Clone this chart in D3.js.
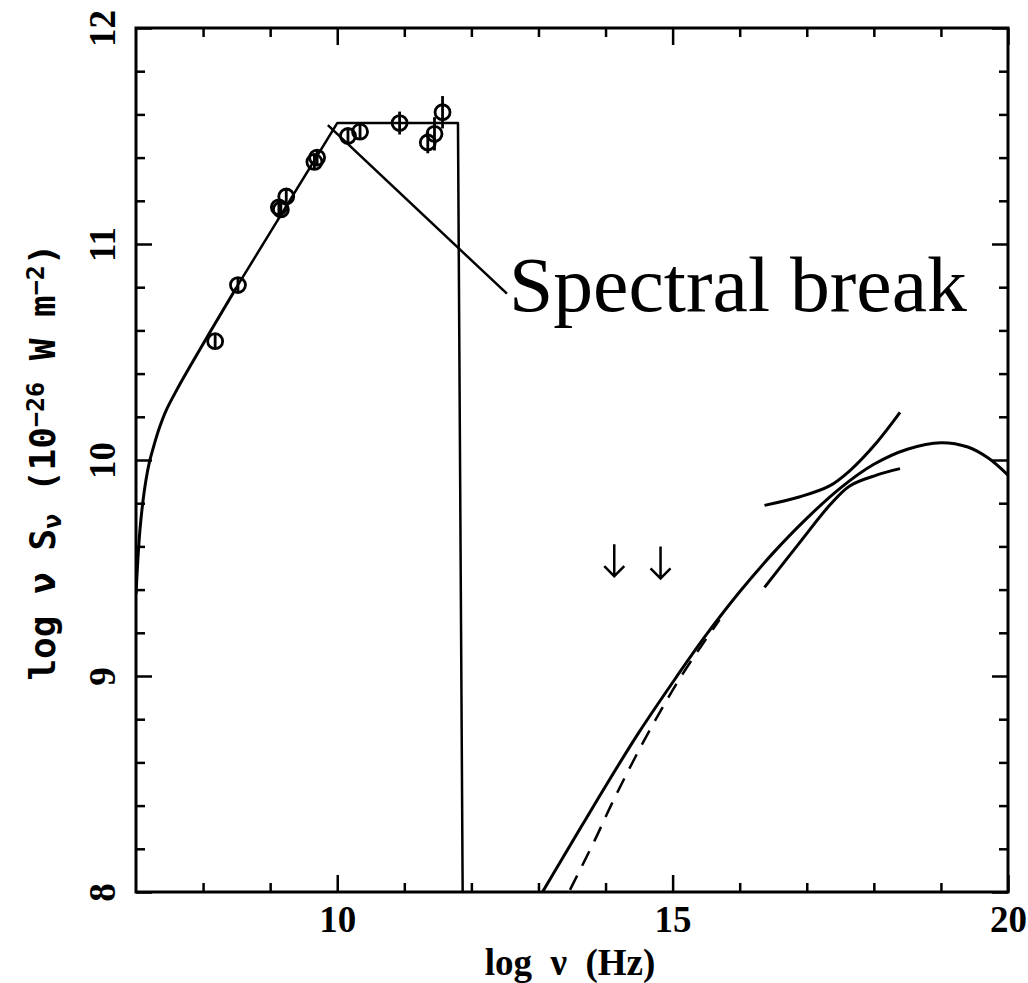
<!DOCTYPE html>
<html>
<head>
<meta charset="utf-8">
<script src="https://cdn.jsdelivr.net/npm/d3@7"></script>
<style>
  body { margin: 0; background: #fff; }
  svg { display: block; }
</style>
</head>
<body>
<script>
// --- data (log nu [Hz], log nu S_nu) ---
var obsX   = [8.18, 8.52, 9.13, 9.16, 9.24, 9.66, 9.70, 10.16, 10.34, 10.93, 11.35, 11.45, 11.57];
var obsY   = [10.55, 10.81, 11.17, 11.16, 11.22, 11.38, 11.40, 11.50, 11.52, 11.56, 11.47, 11.51, 11.61];
var obsErr = [0.02, 0.02, 0.02, 0.02, 0.02, 0.02, 0.02, 0.03, 0.03, 0.053, 0.05, 0.077, 0.075];

// synchrotron model: curved low-frequency part, then straight to the break
var syncLow = [[7.0, 9.38], [7.03, 9.55], [7.06, 9.68], [7.1, 9.80], [7.15, 9.91], [7.2, 9.99],
               [7.27, 10.07], [7.35, 10.15], [7.45, 10.23], [7.6, 10.32], [7.8, 10.43],
               [8.1, 10.59], [8.5, 10.80]];
var syncBreak = [[8.5, 10.80], [10.0, 11.56], [11.8, 11.56], [11.87, 8.0]];

// high energy component
var icSolid = [[13.06, 8.0], [13.5, 8.23], [14.0, 8.49], [14.5, 8.74], [15.0, 8.97],
               [15.5, 9.19], [16.0, 9.39], [16.5, 9.57], [17.0, 9.73], [17.5, 9.87],
               [18.0, 9.98], [18.5, 10.05], [19.0, 10.08], [19.4, 10.06], [19.7, 10.01], [20.0, 9.93]];
var icDashed = [[13.47, 8.01], [13.84, 8.24], [14.08, 8.40], [14.32, 8.55], [14.59, 8.71],
                [14.86, 8.86], [15.13, 9.0], [15.43, 9.14], [15.7, 9.26]];

// X-ray bow tie
var bowUpper = [[16.37, 9.79], [16.9, 9.83], [17.34, 9.88], [17.64, 9.95], [18.04, 10.08], [18.39, 10.22]];
var bowLower = [[16.37, 9.41], [16.9, 9.62], [17.34, 9.79], [17.64, 9.88], [18.04, 9.93], [18.39, 9.96]];

// upper limits (arrows)
var limX = [14.13, 14.82];
var limY = [9.61, 9.60];

// annotation
var noteLine = [[9.86, 11.55], [12.53, 10.77]];
var noteText = "Spectral break";
var notePos = [12.56, 10.69];

var xMajor = [10, 15, 20];
var xMinor = [8, 9, 11, 12, 13, 14, 16, 17, 18, 19];
var yMajor = [8, 9, 10, 11, 12];
var yMinor = d3.range(8.2, 12, 0.2).filter(function (v) { return Math.abs(v - Math.round(v)) > 0.01; });

// --- layout ---
var W = 1028, H = 983;
var m = { left: 136, right: 20, top: 28, bottom: 91 };
var pw = W - m.left - m.right, ph = H - m.top - m.bottom;

var x = d3.scaleLinear().domain([7, 20]).range([0, pw]);
var y = d3.scaleLinear().domain([8, 12]).range([ph, 0]);

var svg = d3.select("body").append("svg").attr("width", W).attr("height", H);
var g = svg.append("g").attr("transform", "translate(" + m.left + "," + m.top + ")");

svg.append("defs").append("clipPath").attr("id", "plotclip")
  .append("rect").attr("width", pw).attr("height", ph);

var tickFont = "'Liberation Serif', 'Times New Roman', serif";

function styleAxis(sel) {
  sel.select(".domain").remove();
  sel.selectAll(".tick line").attr("stroke", "#000").attr("stroke-width", 2.5);
  sel.selectAll("text").attr("fill", "#000").style("font-family", tickFont)
    .style("font-size", "37px").style("font-weight", "bold");
}

// bottom
g.append("g").attr("transform", "translate(0," + ph + ")")
  .call(d3.axisBottom(x).tickValues(xMajor).tickSizeInner(-17).tickSizeOuter(0).tickPadding(14).tickFormat(d3.format("d")))
  .call(styleAxis);
g.append("g").attr("transform", "translate(0," + ph + ")")
  .call(d3.axisBottom(x).tickValues(xMinor).tickSizeInner(-9).tickSizeOuter(0).tickFormat(""))
  .call(styleAxis);
// top
g.append("g")
  .call(d3.axisTop(x).tickValues(xMajor).tickSizeInner(-17).tickSizeOuter(0).tickFormat(""))
  .call(styleAxis);
g.append("g")
  .call(d3.axisTop(x).tickValues(xMinor).tickSizeInner(-9).tickSizeOuter(0).tickFormat(""))
  .call(styleAxis);
// left
var yl = g.append("g")
  .call(d3.axisLeft(y).tickValues(yMajor).tickSizeInner(-16).tickSizeOuter(0).tickFormat(d3.format("d")))
  .call(styleAxis);
yl.selectAll("text")
  .attr("x", null).attr("dy", null)
  .attr("text-anchor", "middle")
  .attr("transform", "translate(-21,0) rotate(-90)");
g.append("g")
  .call(d3.axisLeft(y).tickValues(yMinor).tickSizeInner(-9).tickSizeOuter(0).tickFormat(""))
  .call(styleAxis);
// right
g.append("g").attr("transform", "translate(" + pw + ",0)")
  .call(d3.axisRight(y).tickValues(yMajor).tickSizeInner(-16).tickSizeOuter(0).tickFormat(""))
  .call(styleAxis);
g.append("g").attr("transform", "translate(" + pw + ",0)")
  .call(d3.axisRight(y).tickValues(yMinor).tickSizeInner(-9).tickSizeOuter(0).tickFormat(""))
  .call(styleAxis);

// frame
g.append("rect").attr("width", pw).attr("height", ph)
  .attr("fill", "none").attr("stroke", "#000").attr("stroke-width", 3);

// --- curves ---
var plot = g.append("g").attr("clip-path", "url(#plotclip)");
var smooth = d3.line().x(function (d) { return x(d[0]); }).y(function (d) { return y(d[1]); })
  .curve(d3.curveCatmullRom.alpha(0.5));
var straight = d3.line().x(function (d) { return x(d[0]); }).y(function (d) { return y(d[1]); });

function curve(data, gen, width, dash) {
  plot.append("path").datum(data).attr("d", gen)
    .attr("fill", "none").attr("stroke", "#000").attr("stroke-width", width)
    .attr("stroke-linejoin", "round").attr("stroke-dasharray", dash || null);
}

curve(syncLow, smooth, 3);
curve(syncBreak, straight, 2.5);
curve(icSolid, smooth, 3);
curve(icDashed, smooth, 2.5, "16,11");
curve(bowUpper, smooth, 3);
curve(bowLower, smooth, 3);
curve(noteLine, straight, 2.5);

// data points with error bars
var obs = obsX.map(function (v, i) { return { x: v, y: obsY[i], e: obsErr[i] }; });
var r = 7.5;
var pts = plot.selectAll(".obs").data(obs).enter().append("g").attr("class", "obs");
pts.append("line")
  .attr("x1", function (d) { return x(d.x); }).attr("x2", function (d) { return x(d.x); })
  .attr("y1", function (d) { return Math.min(y(d.y + d.e), y(d.y) - r); })
  .attr("y2", function (d) { return Math.max(y(d.y - d.e), y(d.y) + r); })
  .attr("stroke", "#000").attr("stroke-width", 2.8);
pts.append("circle")
  .attr("cx", function (d) { return x(d.x); }).attr("cy", function (d) { return y(d.y); })
  .attr("r", r).attr("fill", "none").attr("stroke", "#000").attr("stroke-width", 2.8);

// upper limit arrows
var lims = limX.map(function (v, i) { return { x: v, y: limY[i] }; });
var arrowLen = 32, head = 10;
plot.selectAll(".lim").data(lims).enter().append("path").attr("class", "lim")
  .attr("d", function (d) {
    var px = x(d.x), py = y(d.y), tip = py + arrowLen;
    return "M" + px + "," + py + "L" + px + "," + tip +
           "M" + (px - head) + "," + (tip - head) + "L" + px + "," + tip + "L" + (px + head) + "," + (tip - head);
  })
  .attr("fill", "none").attr("stroke", "#000").attr("stroke-width", 2.5);

// annotation text
g.append("text")
  .attr("x", x(notePos[0])).attr("y", y(notePos[1]))
  .attr("textLength", 458).attr("lengthAdjust", "spacingAndGlyphs")
  .style("font-family", "'Liberation Serif', 'Times New Roman', serif")
  .style("font-size", "78px")
  .text(noteText);

// axis titles
svg.append("text")
  .attr("x", 570).attr("y", 975).attr("text-anchor", "middle")
  .style("font-family", tickFont).style("font-size", "37px").style("font-weight", "bold")
  .attr("xml:space", "preserve")
  .text("log  \u03bd  (Hz)");

var yt = svg.append("text")
  .attr("text-anchor", "middle")
  .attr("transform", "translate(55,462) rotate(-90)")
  .style("font-family", "'DejaVu Sans Mono', monospace").style("font-size", "36px").style("font-weight", "bold");
yt.append("tspan").text("log \u03bd S");
yt.append("tspan").attr("baseline-shift", "-25%").style("font-size", "25px").text("\u03bd");
yt.append("tspan").text(" (10");
yt.append("tspan").attr("baseline-shift", "45%").style("font-size", "25px").text("\u221226");
yt.append("tspan").text(" W m");
yt.append("tspan").attr("baseline-shift", "45%").style("font-size", "25px").text("\u22122");
yt.append("tspan").text(")");
</script>
</body>
</html>
